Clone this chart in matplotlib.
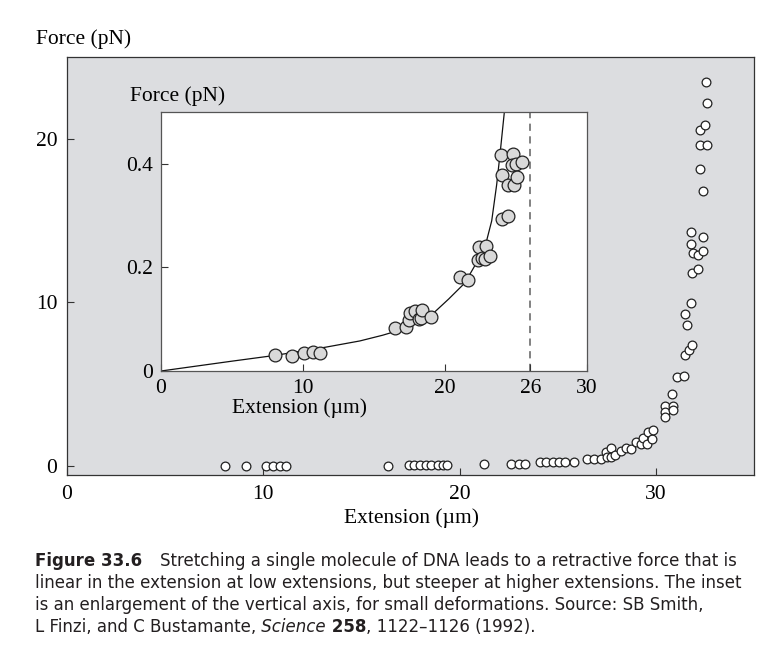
import matplotlib
matplotlib.use("Agg")
import matplotlib.pyplot as plt

# Dados (Smith, Finzi & Bustamante 1992)
main_x = [8.07, 9.14, 10.15, 10.49, 10.83, 11.17,
          16.36, 17.43, 17.7, 18.0, 18.3, 18.55, 18.9, 19.15, 19.35,
          21.27, 22.62, 23.01, 23.35,
          24.11, 24.42, 24.77, 25.08, 25.38, 25.81,
          26.51, 26.85, 27.19, 27.45, 27.53, 27.7, 27.7, 27.92, 28.21, 28.46,
          28.71, 28.97, 29.22, 29.34, 29.56, 29.61, 29.78, 29.86,
          30.46, 30.46, 30.46, 30.86, 30.86, 30.83,
          31.08, 31.42, 31.47, 31.71, 31.85, 31.6, 31.47, 31.79, 31.85, 32.13,
          31.79, 31.9, 32.15, 32.4, 31.79, 32.4,
          32.39, 32.27, 32.27, 32.6, 32.27, 32.49, 32.6, 32.57]
main_y = [0.0, 0.0, 0.0, 0.0, 0.0, 0.0,
          0.03, 0.04, 0.04, 0.05, 0.05, 0.05, 0.06, 0.06, 0.06,
          0.1, 0.14, 0.14, 0.14,
          0.22, 0.22, 0.22, 0.22, 0.22, 0.24,
          0.41, 0.43, 0.45, 0.87, 0.53, 1.08, 0.57, 0.67, 0.93, 1.08,
          1.04, 1.48, 1.32, 1.73, 1.32, 2.05, 1.65, 2.2,
          3.68, 3.31, 2.97, 3.68, 3.41, 4.39,
          5.41, 5.49, 6.77, 7.11, 7.38, 8.6, 9.27, 9.98, 11.79, 12.05,
          13.54, 13.03, 12.87, 13.17, 14.33, 13.98,
          16.83, 18.15, 19.61, 19.61, 20.55, 20.83, 22.2, 23.5]

inset_x = [8.01, 9.23, 10.07, 10.72, 11.19, 16.45, 17.27, 17.45, 17.55, 17.92,
           18.2, 18.34, 18.39, 19.04, 21.07, 21.64, 22.29, 22.36, 22.59, 22.9,
           22.83, 23.18, 24.04, 24.42, 24.0, 23.96, 24.77, 24.7, 25.0, 25.4,
           24.46, 24.86, 25.09]
inset_y = [0.030, 0.029, 0.035, 0.036, 0.035, 0.083, 0.084, 0.098, 0.112, 0.116,
           0.100, 0.102, 0.117, 0.105, 0.181, 0.176, 0.215, 0.240, 0.219, 0.242,
           0.217, 0.222, 0.293, 0.300, 0.378, 0.417, 0.419, 0.398, 0.399, 0.404,
           0.360, 0.360, 0.374]

# curva ajustada (lida ponto a ponto)
curve_x = [0, 5, 8, 11.6, 14, 15.6, 17.2, 18.2, 19.04, 20.26, 21.4, 22.24, 22.87,
           23.29, 23.64, 23.88, 24.18, 24.3]
curve_y = [0, 0.019, 0.030, 0.046, 0.058, 0.069, 0.082, 0.094, 0.108, 0.139, 0.17,
           0.21, 0.245, 0.29, 0.36, 0.42, 0.50, 0.54]

main_xticks = [0, 10, 20, 30]
main_yticks = [0, 10, 20]
inset_xticks = [0, 10, 20, 26, 30]
inset_xlabels = ["0", "10", "20", "26", "30"]
inset_yticks = [0, 0.2, 0.4]
inset_ylabels = ["0", "0.2", "0.4"]
dashed_x = 26

plt.rcParams["font.family"] = "Liberation Serif"
FS = 15.5

fig = plt.figure(figsize=(7.8, 6.5), dpi=100)

# ---- painel principal ----
ax = fig.add_axes([67 / 780, 1 - 475 / 650, 687 / 780, 418 / 650])
ax.set_facecolor("#dcdde0")
ax.plot(main_x, main_y, "o", ms=6.3, mfc="white", mec="#222222", mew=0.9, zorder=3)
ax.set_xlim(0, 35)
ax.set_ylim(-0.55, 25)
ax.set_xticks(main_xticks)
ax.set_yticks(main_yticks)
ax.tick_params(direction="in", length=5, width=0.8, color="#333333", labelsize=FS)
ax.tick_params(axis="x", pad=7)
ax.tick_params(axis="y", pad=7)
for s in ax.spines.values():
    s.set_color("#333333")
    s.set_linewidth(0.9)
ax.text(-0.045, 1.031, "Force (pN)", transform=ax.transAxes, ha="left", va="baseline", fontsize=FS)
ax.text(0.5015, -0.1148, "Extension (µm)", transform=ax.transAxes, ha="center", va="baseline", fontsize=FS)

# ---- inset ----
ins = fig.add_axes([161 / 780, 1 - 371 / 650, 426 / 780, 259 / 650])
ins.set_facecolor("white")
ins.plot(curve_x, curve_y, "-", color="#111111", lw=0.9, zorder=2)
ins.plot(inset_x, inset_y, "o", ms=9.2, mfc="#d9d9d9", mec="#222222", mew=0.9, zorder=3)
ins.axvline(dashed_x, color="#777777", lw=1.3, ls=(0, (4, 3)), zorder=1)
ins.set_xlim(0, 30)
ins.set_ylim(0, 0.5)
ins.set_xticks(inset_xticks)
ins.set_xticklabels(inset_xlabels)
ins.set_yticks(inset_yticks)
ins.set_yticklabels(inset_ylabels)
ins.tick_params(direction="in", length=5, width=0.8, color="#333333", labelsize=FS, pad=6)
for s in ins.spines.values():
    s.set_color("#555555")
    s.set_linewidth(0.9)
ins.text(-0.073, 1.042, "Force (pN)", transform=ins.transAxes, ha="left", va="baseline", fontsize=FS)
ins.text(0.326, -0.143, "Extension (µm)", transform=ins.transAxes, ha="center", va="center", fontsize=FS)

# ---- legenda (caption) ----
CAP = "DejaVu Sans"
CAP_FS = 12
renderer = fig.canvas.get_renderer()


def draw_runs(x, y, runs):
    for txt, weight, style in runs:
        t = fig.text(x, y, txt, fontsize=CAP_FS, family=CAP, weight=weight,
                     style=style, ha="left", va="baseline", color="#231f20")
        bb = t.get_window_extent(renderer)
        x = x + bb.width / fig.bbox.width


cap_left = 35 / 780
fig.text(cap_left, 1 - 566 / 650, "Figure 33.6", fontsize=CAP_FS, family=CAP, weight="bold",
         ha="left", va="baseline", color="#231f20")
fig.text(160 / 780, 1 - 566 / 650, "Stretching a single molecule of DNA leads to a retractive force that is",
         fontsize=CAP_FS, family=CAP, ha="left", va="baseline", color="#231f20")
draw_runs(cap_left, 1 - 588.3 / 650, [("linear in the extension at low extensions, but steeper at higher extensions. The inset",
                                       "normal", "normal")])
draw_runs(cap_left, 1 - 610 / 650, [("is an enlargement of the vertical axis, for small deformations. Source: SB Smith,",
                                     "normal", "normal")])
draw_runs(cap_left, 1 - 631.5 / 650, [("L Finzi, and C Bustamante,", "normal", "normal"),
                                      (" Science", "normal", "italic"),
                                      (" 258", "bold", "normal"),
                                      (", 1122–1126 (1992).", "normal", "normal")])

fig.savefig("out.png", dpi=100)
